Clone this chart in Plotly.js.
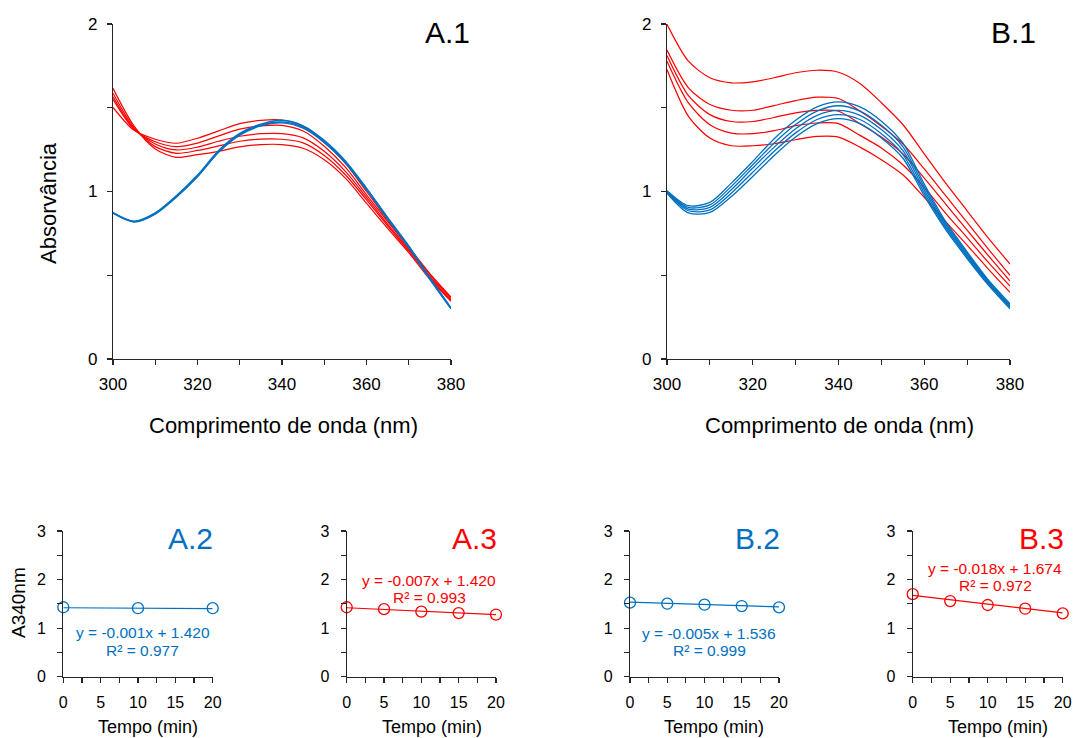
<!DOCTYPE html>
<html>
<head>
<meta charset="utf-8">
<script src="https://cdn.plot.ly/plotly-3.0.1.min.js"></script>
<style>html,body{margin:0;padding:0;background:#fff;}#chart{width:1075px;height:738px;}</style>
</head>
<body>
<div id="chart"></div>
<script>
// ---------- data ----------
const wavelength = [300,305,310,315,320,325,330,335,340,345,350,355,360,365,370,375,380];

// Panel A.1 spectra (red: one curve per time, blue: one curve per time)
const a1RedCurves = [
  [1.502,1.365,1.312,1.288,1.318,1.362,1.405,1.425,1.427,1.390,1.300,1.170,1.000,0.830,0.670,0.510,0.370],
  [1.550,1.370,1.297,1.268,1.289,1.332,1.372,1.392,1.395,1.361,1.270,1.145,0.980,0.820,0.665,0.505,0.365],
  [1.566,1.375,1.284,1.248,1.265,1.300,1.330,1.345,1.345,1.320,1.240,1.120,0.965,0.805,0.655,0.495,0.360],
  [1.586,1.380,1.268,1.228,1.245,1.272,1.300,1.313,1.312,1.290,1.215,1.100,0.950,0.795,0.645,0.485,0.350],
  [1.616,1.390,1.254,1.204,1.220,1.240,1.266,1.280,1.280,1.258,1.190,1.080,0.930,0.780,0.635,0.475,0.345]
];
const a1BlueCurves = [
  [0.874,0.822,0.872,0.975,1.098,1.245,1.347,1.402,1.425,1.392,1.305,1.182,1.020,0.845,0.675,0.485,0.305],
  [0.872,0.820,0.868,0.970,1.092,1.238,1.340,1.396,1.415,1.384,1.298,1.175,1.015,0.840,0.670,0.480,0.302],
  [0.870,0.818,0.865,0.966,1.088,1.234,1.336,1.392,1.410,1.378,1.292,1.170,1.010,0.835,0.665,0.476,0.300]
];

// Panel B.1 spectra
const b1RedCurves = [
  [1.998,1.778,1.679,1.649,1.655,1.679,1.709,1.724,1.712,1.645,1.530,1.400,1.225,1.050,0.885,0.720,0.567],
  [1.844,1.619,1.519,1.485,1.485,1.513,1.543,1.563,1.555,1.480,1.390,1.285,1.135,0.975,0.815,0.655,0.500],
  [1.812,1.573,1.459,1.418,1.418,1.442,1.469,1.484,1.479,1.405,1.325,1.225,1.080,0.925,0.770,0.615,0.465],
  [1.778,1.529,1.399,1.349,1.345,1.363,1.393,1.409,1.405,1.335,1.260,1.160,1.025,0.870,0.725,0.575,0.435],
  [1.728,1.449,1.319,1.273,1.273,1.285,1.309,1.329,1.325,1.265,1.190,1.100,0.965,0.820,0.680,0.535,0.398]
];
const b1BlueCurves = [
  [1.005,0.915,0.935,1.050,1.180,1.315,1.425,1.505,1.535,1.505,1.420,1.290,1.045,0.820,0.640,0.470,0.330],
  [1.000,0.905,0.920,1.030,1.160,1.290,1.400,1.480,1.512,1.480,1.395,1.268,1.028,0.808,0.630,0.462,0.322],
  [0.997,0.895,0.905,1.010,1.140,1.265,1.375,1.455,1.484,1.455,1.370,1.245,1.010,0.796,0.620,0.455,0.315],
  [0.993,0.885,0.890,0.990,1.115,1.240,1.350,1.430,1.459,1.430,1.345,1.222,0.992,0.784,0.610,0.448,0.308],
  [0.990,0.872,0.875,0.970,1.090,1.215,1.325,1.405,1.435,1.405,1.320,1.200,0.975,0.772,0.600,0.440,0.300]
];

// Time series of A340nm
const a2Time = [0,10,20];
const a2Abs  = [1.43,1.41,1.41];
const a3Time = [0,5,10,15,20];
const a3Abs  = [1.43,1.39,1.34,1.31,1.28];
const b2Time = [0,5,10,15,20];
const b2Abs  = [1.524,1.503,1.482,1.455,1.428];
const b3Time = [0,5,10,15,20];
const b3Abs  = [1.70,1.558,1.476,1.40,1.304];

// Linear fits shown on the chart: [slope, intercept, R²]
const a2Fit = [-0.001, 1.420, 0.977];
const a3Fit = [-0.007, 1.420, 0.993];
const b2Fit = [-0.005, 1.536, 0.999];
const b3Fit = [-0.018, 1.674, 0.972];

const panelLabels = ['A.1','B.1','A.2','A.3','B.2','B.3'];
const xTitleTop = 'Comprimento de onda (nm)';
const yTitleTop = 'Absorvância';
const xTitleBottom = 'Tempo (min)';
const yTitleBottom = 'A340nm';

// ---------- styling ----------
const W = 1075, H = 738;
const RED = '#FF0000', BLUE = '#0070C0', AX = '#262626';
const FONT = 'Liberation Sans, Arial, sans-serif';
const px = v => v / W;
const py = v => 1 - v / H;

const traces = [];
function spectra(curves, color, xa, ya, width) {
  curves.forEach(c => traces.push({
    type: 'scatter', mode: 'lines', x: wavelength, y: c,
    xaxis: xa, yaxis: ya, cliponaxis: false, hoverinfo: 'skip',
    line: {color: color, width: width, shape: 'spline', smoothing: 0.8}
  }));
}
spectra(a1RedCurves, RED, 'x', 'y', 1.2);
spectra(a1BlueCurves, BLUE, 'x', 'y', 1.4);
spectra(b1RedCurves, RED, 'x2', 'y2', 1.2);
spectra(b1BlueCurves, BLUE, 'x2', 'y2', 1.3);

function series(t, a, fit, color, xa, ya) {
  const fx = [t[0], t[t.length - 1]];
  traces.push({
    type: 'scatter', mode: 'lines', x: fx, y: fx.map(v => fit[1] + fit[0] * v),
    xaxis: xa, yaxis: ya, cliponaxis: false, line: {color: color, width: 1.2}, hoverinfo: 'skip'
  });
  traces.push({
    type: 'scatter', mode: 'markers', x: t, y: a, xaxis: xa, yaxis: ya, cliponaxis: false,
    marker: {symbol: 'circle-open', size: 11, color: color, line: {width: 1.3, color: color}}
  });
}
series(a2Time, a2Abs, a2Fit, BLUE, 'x3', 'y3');
series(a3Time, a3Abs, a3Fit, RED, 'x4', 'y4');
series(b2Time, b2Abs, b2Fit, BLUE, 'x5', 'y5');
series(b3Time, b3Abs, b3Fit, RED, 'x6', 'y6');

function axis(domain, range, dtick, minor, anchor, fontSize, extra) {
  return Object.assign({
    domain: domain, range: range, anchor: anchor, dtick: dtick, tick0: range[0],
    showline: true, linecolor: AX, linewidth: 1.2, ticks: 'outside', ticklen: 5,
    tickcolor: AX, tickwidth: 1.2, showgrid: false, zeroline: false, fixedrange: true,
    tickfont: {family: FONT, size: fontSize, color: '#000'},
    minor: {dtick: minor, tick0: range[0], ticks: 'outside', ticklen: 5, tickcolor: AX, tickwidth: 1.2, showgrid: false}
  }, extra || {});
}

const topY = [py(359), py(24)];
const botY = [py(676.7), py(531)];
const layout = {
  width: W, height: H, margin: {l: 0, r: 0, t: 0, b: 0},
  paper_bgcolor: '#fff', plot_bgcolor: 'rgba(0,0,0,0)', showlegend: false,
  font: {family: FONT, color: '#000'},
  xaxis:  axis([px(113), px(451)], [300, 380], 20, 10, 'y', 17, {ticklabelstandoff: 4}),
  yaxis:  axis(topY, [0, 2], 1, 0.5, 'x', 17, {ticklabelstandoff: 6}),
  xaxis2: axis([px(667), px(1010)], [300, 380], 20, 10, 'y2', 17, {ticklabelstandoff: 4}),
  yaxis2: axis(topY, [0, 2], 1, 0.5, 'x2', 17, {ticklabelstandoff: 6}),
  xaxis3: axis([px(63.3), px(212.7)], [0, 20], 5, 2.5, 'y3', 16, {ticklabelstandoff: 6}),
  yaxis3: axis(botY, [0, 3], 1, 0.5, 'x3', 16, {ticklabelstandoff: 8}),
  xaxis4: axis([px(346.7), px(496)], [0, 20], 5, 2.5, 'y4', 16, {ticklabelstandoff: 6}),
  yaxis4: axis(botY, [0, 3], 1, 0.5, 'x4', 16, {ticklabelstandoff: 8}),
  xaxis5: axis([px(630), px(779)], [0, 20], 5, 2.5, 'y5', 16, {ticklabelstandoff: 6}),
  yaxis5: axis(botY, [0, 3], 1, 0.5, 'x5', 16, {ticklabelstandoff: 8}),
  xaxis6: axis([px(912.7), px(1062.7)], [0, 20], 5, 2.5, 'y6', 16, {ticklabelstandoff: 6}),
  yaxis6: axis(botY, [0, 3], 1, 0.5, 'x6', 16, {ticklabelstandoff: 8}),
  annotations: []
};

function note(text, x, y, size, color, angle) {
  layout.annotations.push({
    text: text, xref: 'paper', yref: 'paper', x: px(x), y: py(y),
    xanchor: 'center', yanchor: 'middle', showarrow: false, textangle: angle || 0,
    font: {family: FONT, size: size, color: color || '#000'}
  });
}
// panel labels
note(panelLabels[0], 447, 32, 30, '#000');
note(panelLabels[1], 1013, 32, 30, '#000');
note(panelLabels[2], 190, 538, 30, BLUE);
note(panelLabels[3], 474, 538, 30, RED);
note(panelLabels[4], 757, 538, 30, BLUE);
note(panelLabels[5], 1041, 538, 30, RED);
// axis titles
note(xTitleTop, 283.5, 425, 22);
note(xTitleTop, 839, 425, 22);
note(yTitleTop, 48, 203, 22, '#000', -90);
note(yTitleBottom, 18, 603, 19, '#000', -90);
[148, 431.7, 714, 998].forEach(x => note(xTitleBottom, x, 726.7, 18));
// fit equations
function eq(fit, x, y1, y2, color) {
  note('y = ' + fit[0].toFixed(3) + 'x + ' + fit[1].toFixed(3), x, y1, 15.5, color);
  note('R² = ' + fit[2].toFixed(3), x, y2, 15.5, color);
}
eq(a2Fit, 142.7, 632.7, 650, BLUE);
eq(a3Fit, 429, 580, 597, RED);
eq(b2Fit, 709, 633, 650, BLUE);
eq(b3Fit, 995, 568, 585, RED);

Plotly.newPlot('chart', traces, layout, {staticPlot: true, displayModeBar: false});
</script>
</body>
</html>
